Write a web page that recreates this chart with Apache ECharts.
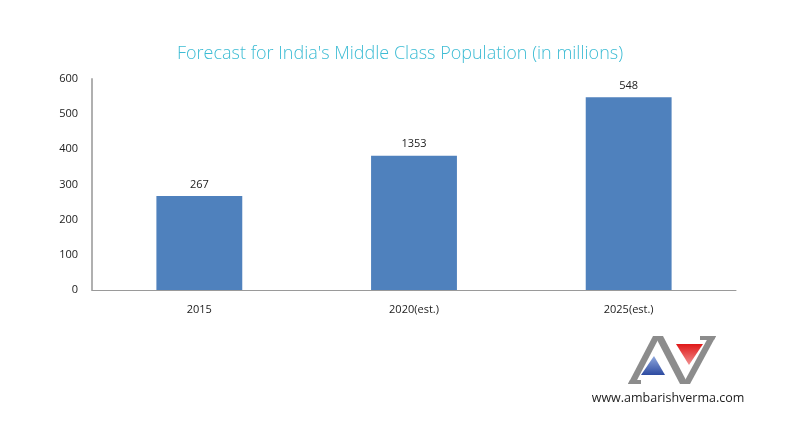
<!DOCTYPE html>
<html>
<head>
<meta charset="utf-8">
<script src="https://cdn.jsdelivr.net/npm/echarts@6/dist/echarts.min.js"></script>
<style>html,body{margin:0;padding:0;background:#fff}#c{width:800px;height:437px}</style>
</head>
<body>
<div id="c"></div>
<script>
const categories = ['2015', '2020(est.)', '2025(est.)'];
const values = [267, 382, 548];
const dataLabels = ['267', '1353', '548'];
const yTicks = [0, 100, 200, 300, 400, 500, 600];

const chart = echarts.init(document.getElementById('c'), null, {renderer: 'canvas'});
const gray = '#8c8c8c';
chart.setOption({
  backgroundColor: '#fff',
  animation: false,
  title: {
    text: "Forecast for India's Middle Class Population (in millions)",
    left: 'center',
    top: 40,
    textStyle: {fontFamily: 'Open Sans', fontWeight: 300, fontSize: 18, color: '#3dbcd4'}
  },
  grid: {left: 92, right: 64, top: 79, bottom: 147},
  xAxis: {
    type: 'category',
    data: categories,
    axisLine: {lineStyle: {color: '#9a9a9a', width: 1}},
    axisTick: {show: false},
    axisLabel: {color: '#222', fontSize: 11, fontFamily: 'Open Sans', margin: 14}
  },
  yAxis: {
    type: 'value',
    min: yTicks[0], max: yTicks[yTicks.length - 1], interval: 100,
    axisLine: {show: true, lineStyle: {color: '#b0b0b0', width: 2}},
    axisTick: {show: false},
    splitLine: {show: false},
    axisLabel: {color: '#222', fontSize: 11, fontFamily: 'Open Sans', margin: 14}
  },
  series: [{
    type: 'bar',
    data: values,
    barWidth: '40%',
    itemStyle: {color: '#4f81bd'},
    label: {
      show: true, position: 'top', distance: 6,
      color: '#222', fontSize: 11, fontFamily: 'Open Sans',
      formatter: p => dataLabels[p.dataIndex]
    }
  }],
  graphic: [
    {
      type: 'group', x: 615, y: 328,
      children: [
        {type: 'polygon', shape: {points: [[13,56],[38,8],[45,8],[20,56]]}, style: {fill: gray}},
        {type: 'polygon', shape: {points: [[13,56],[26,56],[26,52],[15,52]]}, style: {fill: gray}},
        {type: 'polygon', shape: {points: [[40,8],[48,8],[73,56],[65,56]]}, style: {fill: gray}},
        {type: 'polygon', shape: {points: [[68,56],[75,56],[101,8],[94,8]]}, style: {fill: gray}},
        {type: 'polygon', shape: {points: [[85,8],[101,8],[99,12],[85,12]]}, style: {fill: gray}},
        {type: 'polygon', shape: {points: [[26,47],[39,28],[50,47]]},
          style: {fill: new echarts.graphic.LinearGradient(0,0,0,1,[{offset:0,color:'#8fa8de'},{offset:1,color:'#2d4aa0'}])}},
        {type: 'polygon', shape: {points: [[61,16],[88,16],[74,37]]},
          style: {fill: new echarts.graphic.LinearGradient(0,0,0,1,[{offset:0,color:'#e01818'},{offset:1,color:'#f09090'}])}}
      ]
    },
    {
      type: 'text', x: 668, y: 398,
      style: {text: 'www.ambarishverma.com', fill: '#222', fontSize: 12.5, fontFamily: 'Open Sans', align: 'center', verticalAlign: 'middle'}
    }
  ]
});
</script>
</body>
</html>
